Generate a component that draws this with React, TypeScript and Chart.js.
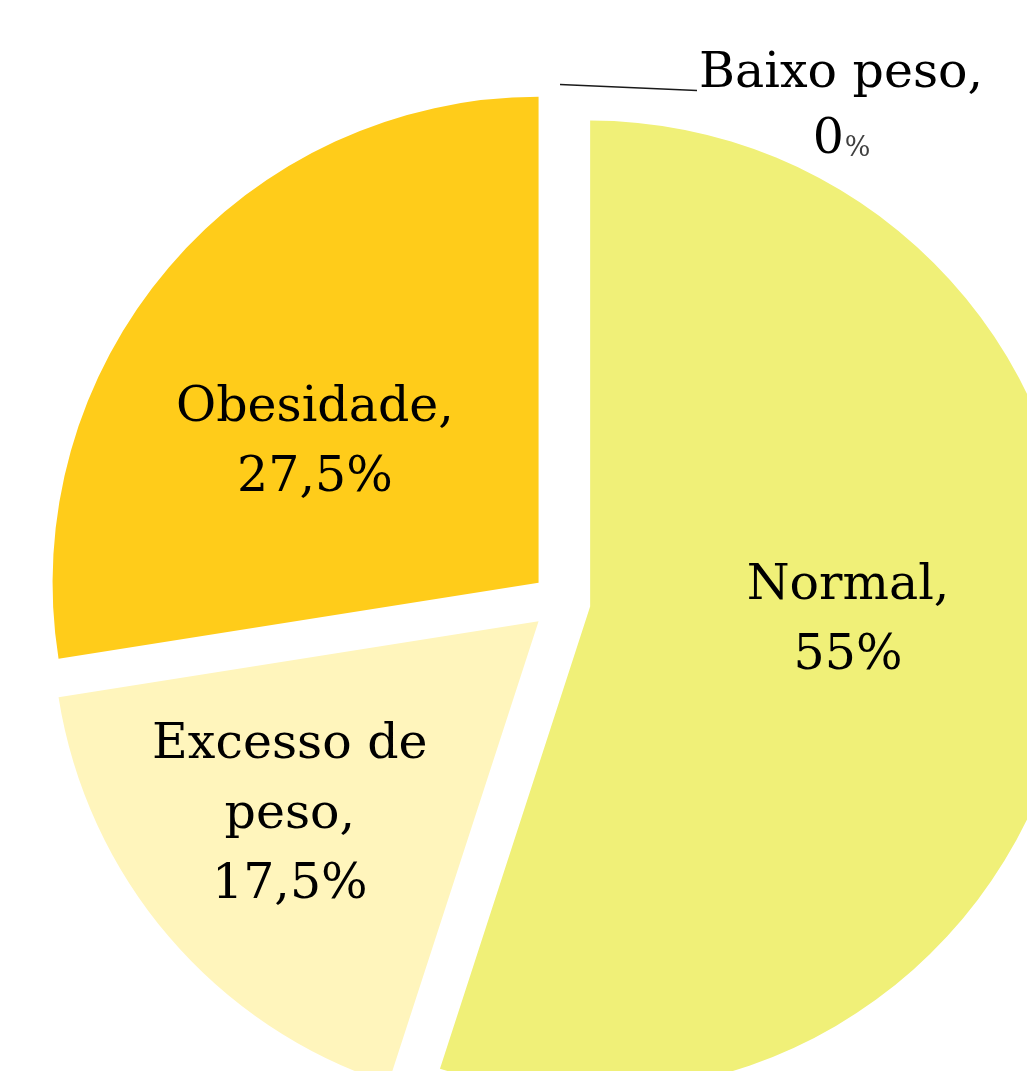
import React, { useEffect, useRef } from "react";
import { Chart, registerables } from "chart.js";

Chart.register(...registerables);

// ---- data ----
const categories: string[] = ["Baixo peso", "Normal", "Excesso de peso", "Obesidade"];
const percentages: number[] = [0, 55, 17.5, 27.5];
const sliceColors: string[] = ["#E6E6E6", "#F0F078", "#FFF5BC", "#FFCC1A"];

// ---- layout / style ----
const CANVAS_W = 1122;
const CANVAS_H = 1204;
const PIE_RADIUS = 486;
const EXPLODE = 29.5;
const FONT_FAMILY = "'DejaVu Serif', 'Liberation Serif', serif";
const FONT_SIZE = 49;
const LINE_H = 70;
const WRAP_WIDTH = 310;
// inside label placement: angular shift (deg) from slice middle, radius fraction
const insidePlacement: ({ shift: number; frac: number } | null)[] = [
  null,
  { shift: -5.2, frac: 0.592 },
  { shift: 2.3, frac: 0.71 },
  { shift: -7.6, frac: 0.603 },
];

const fmtPct = (v: number) => String(v).replace(".", ",");

function wrap(ctx: CanvasRenderingContext2D, text: string, maxW: number): string[] {
  const words = text.split(" ");
  const lines: string[] = [];
  let cur = "";
  for (const w of words) {
    const t = cur ? cur + " " + w : w;
    if (cur && ctx.measureText(t).width > maxW) {
      lines.push(cur);
      cur = w;
    } else cur = t;
  }
  if (cur) lines.push(cur);
  return lines;
}

const explodePlugin = {
  id: "explodeSlices",
  afterDatasetsUpdate(chart: any) {
    const meta = chart.getDatasetMeta(0);
    meta.data.forEach((arc: any) => {
      const mid = (arc.startAngle + arc.endAngle) / 2;
      arc.x += Math.cos(mid) * EXPLODE;
      arc.y += Math.sin(mid) * EXPLODE;
    });
  },
};

const labelPlugin = {
  id: "sliceLabels",
  afterDatasetsDraw(chart: any) {
    const ctx: CanvasRenderingContext2D = chart.ctx;
    const meta = chart.getDatasetMeta(0);
    const ca = chart.chartArea;
    const cx = (ca.left + ca.right) / 2;
    const cy = (ca.top + ca.bottom) / 2;
    ctx.save();
    ctx.fillStyle = "#000000";
    ctx.font = `${FONT_SIZE}px ${FONT_FAMILY}`;
    ctx.textAlign = "center";
    ctx.textBaseline = "middle";
    meta.data.forEach((arc: any, i: number) => {
      const mid = (arc.startAngle + arc.endAngle) / 2;
      const pl = insidePlacement[i];
      if (pl) {
        const a = mid + (pl.shift * Math.PI) / 180;
        const r = pl.frac * arc.outerRadius;
        const x = cx + Math.cos(a) * r;
        const y = cy + Math.sin(a) * r;
        ctx.font = `${FONT_SIZE}px ${FONT_FAMILY}`;
        const lines = wrap(ctx, categories[i] + ",", WRAP_WIDTH);
        lines.push(fmtPct(percentages[i]) + "%");
        lines.forEach((ln, k) => {
          ctx.fillText(ln, x, y + (k - (lines.length - 1) / 2) * LINE_H);
        });
      } else {
        // outside label with leader line
        const ox = arc.x + Math.cos(mid) * arc.outerRadius;
        const oy = arc.y + Math.sin(mid) * arc.outerRadius;
        const lx = ox + 136;
        const ly = oy + 4;
        ctx.strokeStyle = "#1a1a1a";
        ctx.lineWidth = 1.3;
        ctx.beginPath();
        ctx.moveTo(ox - 1, oy - 2);
        ctx.lineTo(lx, ly);
        ctx.stroke();
        ctx.textAlign = "left";
        ctx.font = `${FONT_SIZE}px ${FONT_FAMILY}`;
        const name = categories[i] + ",";
        const nameW = ctx.measureText(name).width;
        const tx = lx + 2;
        const centerX = tx + nameW / 2;
        ctx.fillText(name, tx, ly - 16);
        const num = fmtPct(percentages[i]);
        const numW = ctx.measureText(num).width;
        const smallFont = `${Math.round(FONT_SIZE * 0.55)}px ${FONT_FAMILY}`;
        ctx.font = smallFont;
        const pctW = ctx.measureText("%").width;
        const startX = centerX - (numW + pctW) / 2;
        ctx.font = `${FONT_SIZE}px ${FONT_FAMILY}`;
        ctx.fillText(num, startX, ly + 50);
        ctx.font = smallFont;
        ctx.fillStyle = "#404040";
        ctx.fillText("%", startX + numW + 1, ly + 58);
        ctx.fillStyle = "#000000";
        ctx.textAlign = "center";
      }
    });
    ctx.restore();
  },
};

export default function App() {
  const ref = useRef<HTMLCanvasElement | null>(null);
  useEffect(() => {
    if (!ref.current) return;
    const chart = new Chart(ref.current, {
      type: "pie",
      data: {
        labels: categories,
        datasets: [
          {
            data: percentages,
            backgroundColor: sliceColors,
            borderWidth: 0,
            radius: PIE_RADIUS,
          } as any,
        ],
      },
      options: {
        responsive: false,
        animation: false,
        events: [],
        layout: { padding: 0 },
        plugins: {
          legend: { display: false },
          tooltip: { enabled: false },
        },
      },
      plugins: [explodePlugin, labelPlugin],
    });
    return () => chart.destroy();
  }, []);
  return (
    <div
      style={{
        position: "fixed",
        left: 0,
        top: 0,
        width: 1027,
        height: 1071,
        overflow: "hidden",
        background: "#ffffff",
      }}
    >
      <canvas ref={ref} width={CANVAS_W} height={CANVAS_H} style={{ display: "block" }} />
    </div>
  );
}
